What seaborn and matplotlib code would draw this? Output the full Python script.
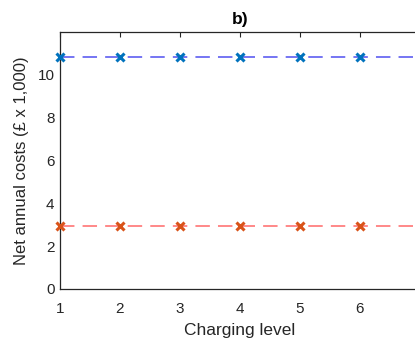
import matplotlib
matplotlib.use("Agg")
import matplotlib.pyplot as plt
import seaborn as sns
import pandas as pd

# Net annual costs per charging level (in thousands of pounds)
charging_level = [1, 2, 3, 4, 5, 6, 7]
cost_upper = [10.85, 10.85, 10.85, 10.85, 10.85, 10.85, 10.85]
cost_lower = [2.93, 2.93, 2.93, 2.93, 2.93, 2.93, 2.93]
y_ticks = [0, 2, 4, 6, 8, 10]

sns.set_theme(style="white")
plt.rcParams["font.family"] = ["Liberation Sans", "DejaVu Sans"]

fig = plt.figure(figsize=(4.15, 3.45), dpi=100)
ax = fig.add_axes([60 / 415, 56 / 345, 360 / 415, 257 / 345])

df = pd.DataFrame({"level": charging_level, "upper": cost_upper, "lower": cost_lower})

common = dict(linestyle="--", linewidth=1.3, marker="x", markersize=5.5,
              markeredgewidth=2.2, clip_on=False, zorder=3)
sns.lineplot(data=df, x="level", y="upper", ax=ax, color="#6a6af2",
             markeredgecolor="#0072BD", **common)
sns.lineplot(data=df, x="level", y="lower", ax=ax, color="#ff7f7f",
             markeredgecolor="#D95319", **common)
for line in ax.get_lines():
    line.set_dashes((8, 4.5))

ax.set_xlim(1, 7)
ax.set_ylim(0, 12)
ax.set_xticks(charging_level)
ax.set_yticks(y_ticks)
ax.tick_params(direction="in", length=3.5, width=0.8, colors="#262626",
               labelsize=11, top=True, right=True)
ax.tick_params(axis="x", pad=9.5)
ax.tick_params(axis="y", pad=4)
for lbl in ax.get_xticklabels() + ax.get_yticklabels():
    lbl.set_color("#262626")
for sp in ax.spines.values():
    sp.set_color("#262626")
    sp.set_linewidth(0.9)

ax.set_xlabel("Charging level", fontsize=12.5, color="#262626", labelpad=5)
ax.set_ylabel("Net annual costs (£ x 1,000)", fontsize=12, color="#262626", labelpad=6)
ax.set_title("b)", fontsize=12.5, fontweight="bold", color="#000000", pad=6)

fig.savefig("out.png", dpi=100)
